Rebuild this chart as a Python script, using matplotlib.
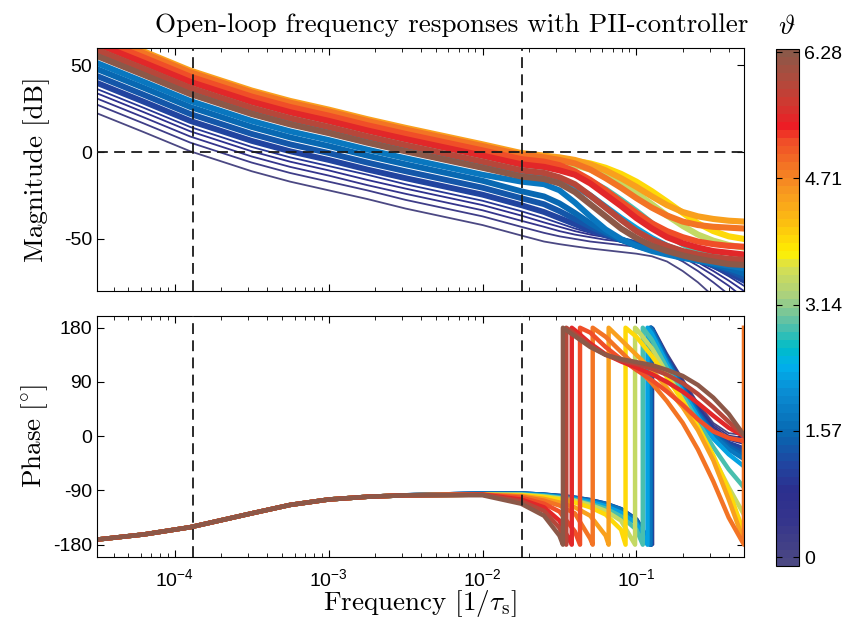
import numpy as np
import matplotlib
matplotlib.use('Agg')
import matplotlib.pyplot as plt
from matplotlib.colors import LinearSegmentedColormap, Normalize
from matplotlib.ticker import FixedLocator, LogLocator, NullFormatter, FuncFormatter

plt.rcParams['font.family'] = 'Liberation Sans'
plt.rcParams['mathtext.fontset'] = 'custom'
plt.rcParams['mathtext.rm'] = 'Liberation Sans'
plt.rcParams['mathtext.it'] = 'Liberation Sans:italic'
plt.rcParams['mathtext.bf'] = 'Liberation Sans:bold'
plt.rcParams['mathtext.sf'] = 'Liberation Sans'
plt.rcParams['axes.unicode_minus'] = False

### frequency grid [1/tau_s] ###
freq = np.array([3.0e-5, 6.3e-5, 1.26e-4, 3.16e-4, 5.62e-4, 1.0e-3, 1.78e-3, 3.16e-3, 1.0e-2,
                 1.78e-2, 2.51e-2, 3.16e-2, 3.98e-2, 5.01e-2, 6.31e-2, 7.94e-2,
                 0.1, 0.126, 0.158, 0.2, 0.251, 0.316, 0.398, 0.5])

### magnitude [dB], one list per theta ###
mag_005 = [23, 11.5, 0.5, -11, -17, -22, -27, -32.5, -42, -48, -51.5, -53, -54.3, -55.5, -56.5, -57.5, -58.5, -60, -63, -68.5, -75, -83, -91, -99]
mag_030 = [28, 16.5, 5.5, -6, -12, -17, -22, -27.5, -37, -43, -46.5, -48.5, -50, -51.5, -52.5, -53.5, -54.5, -56, -58.5, -63, -68.5, -75, -82, -89]
mag_055 = [31.5, 20, 9, -2.5, -8.5, -13.5, -19, -24, -33.5, -39.5, -43, -45.5, -47.5, -49, -50.5, -51.5, -52.5, -54, -56.5, -60.5, -65.5, -71, -77, -84]
mag_080 = [34.5, 23, 12, 0.5, -5.5, -10.5, -16, -21, -30.5, -36.5, -40.5, -43, -45.5, -47.5, -49, -50.5, -51.5, -53, -55.5, -59, -63.5, -68.5, -74, -80]
mag_100 = [37, 25.5, 14.5, 3, -3, -8, -13, -18.5, -28, -34, -38, -41, -44, -46.5, -48.5, -50, -51.5, -53, -55, -58, -62, -66.5, -71.5, -77]
mag_120 = [40.5, 29, 18, 6.5, 0.5, -4.5, -10, -15, -24.5, -30.5, -34.5, -38, -41.5, -45, -48, -50.5, -52.5, -54.5, -56.5, -59, -62, -65.5, -69.5, -74]
mag_145 = [44.5, 33, 22, 10.5, 4.5, -0.5, -6, -11, -20.5, -26.5, -30, -34, -38.5, -43, -47, -50.5, -53, -55.5, -57.5, -59.5, -62, -65, -68, -72]
mag_165 = [48.5, 37, 26, 14.5, 8.5, 3.5, -2, -7, -16.5, -22.5, -25.5, -29.5, -35, -41, -46, -50.5, -54, -56.5, -58.5, -60.5, -62.5, -64.5, -67, -70]
mag_185 = [52, 40.5, 29.5, 18, 12, 7, 1.5, -3.5, -13, -17, -18.5, -22, -29, -37, -44.5, -50, -54, -57, -59, -61, -62.5, -64, -65.5, -67]
mag_230 = [58, 46.5, 35.5, 24, 18, 13, 7.5, 2.5, -7, -12, -13.5, -15.5, -19.5, -25, -31.5, -38, -44, -49.5, -54, -57.5, -60, -62, -63.5, -65]
mag_290 = [63, 51.5, 40.5, 29, 23, 18, 12.5, 7.5, -2, -7, -8.5, -10, -12.5, -16.5, -21.5, -27.5, -34, -41, -47.5, -53, -57, -60, -62, -63.5]
mag_350 = [66.5, 55, 44, 32.5, 26.5, 21.5, 16, 11, 1.5, -3.5, -5, -6, -7.5, -10, -13.5, -18, -23.5, -30, -36.5, -42.5, -47.5, -51, -53.5, -55]
mag_400 = [68.5, 57, 46, 34.5, 28.5, 23.5, 18, 13, 3.5, -1.5, -3, -4, -5, -6.5, -9, -12.5, -17, -22.5, -28.5, -35, -41, -45.5, -48.5, -50]
mag_450 = [69.5, 58, 47, 35.5, 29.5, 24.5, 19, 14, 4.5, -0.5, -2, -3, -4.5, -7, -10.5, -15, -20, -25.5, -30.5, -34.5, -37, -38.5, -39.5, -40]
mag_490 = [68.5, 57, 46, 34.5, 28.5, 23.5, 18, 13, 3.5, -1.5, -3, -4.5, -6.5, -10, -15, -20.5, -26.5, -32, -36.5, -40, -42, -43, -43.5, -44]
mag_515 = [66, 54.5, 43.5, 32, 26, 21, 15.5, 10.5, 1, -4, -5.5, -7.5, -11, -16, -22, -28.5, -35, -41, -45.5, -49, -51.5, -53, -54, -54.5]
mag_540 = [63, 51.5, 40.5, 29, 23, 18, 12.5, 7.5, -2, -7, -8.5, -10.5, -13, -18, -24.5, -31, -38, -44, -49, -52.5, -55, -57, -58, -59]
mag_585 = [59.5, 48, 37, 25.5, 19.5, 14.5, 9, 4, -5.5, -10.5, -12, -14.5, -18.5, -25, -32, -39, -45.5, -50.5, -54, -57, -59, -60.5, -61.5, -62]
mag_628 = [56, 44.5, 33.5, 22, 16, 11, 5.5, 0.5, -9, -14, -15.5, -18, -23, -30, -37, -44, -49.5, -54, -57, -59.5, -61.5, -63, -64.5, -65]

### phase [deg], as displayed (wrapped into -180..180) ###
ph_005 = [-172, -163, -151, -128, -114, -105, -100.5, -98, -95, -95, -97, -99, -102, -106, -112, -121, -138, -178, 138, 95, 55, 22, 5, 2]
ph_030 = [-172, -163, -151, -128, -114, -105, -100.5, -98, -95, -95, -97, -99, -102, -106, -112, -121, -138, -178, 136, 93, 52, 19, 1, -3]
ph_055 = [-172, -163, -151, -128, -114, -105, -100.5, -98, -95, -95, -97, -99, -102, -106, -112, -121, -138, -178, 134, 90, 49, 16, -3, -8]
ph_080 = [-172, -163, -151, -128, -114, -105, -100.5, -98, -95, -95, -97, -99, -102, -106, -112, -121, -138, -178, 132, 88, 46, 13, -6, -13]
ph_100 = [-172, -163, -151, -128, -114, -105, -100.5, -98, -95, -95, -97, -99, -102, -106, -112, -121, -138, -179, 130, 86, 44, 10, -9, -18]
ph_120 = [-172, -163, -151, -128, -114, -105, -100.5, -98, -95, -95, -97, -99, -102, -106, -112, -121, -138, 179, 130, 84, 42, 8, -12, -22]
ph_145 = [-172, -163, -151, -128, -114, -105, -100.5, -98, -95, -95, -97, -99, -102, -106, -112, -121, -139, 178, 128, 82, 40, 6, -15, -28]
ph_165 = [-172, -163, -151, -128, -114, -105, -100.5, -98, -95, -95, -97, -100, -103, -107, -113, -122, -140, 177, 126, 80, 38, 4, -18, -33]
ph_185 = [-172, -163, -151, -128, -114, -105, -100.5, -98, -95, -96, -98, -100, -103, -107, -113, -122, -141, 175, 124, 78, 36, 2, -22, -38]
ph_230 = [-172, -163, -151, -128, -114, -105, -100.5, -98, -97, -96, -98, -101, -104, -109, -116, -127, -145, 170, 120, 74, 32, -4, -30, -50]
ph_290 = [-172, -163, -151, -128, -114, -105, -100.5, -98, -97, -97, -99, -102, -106, -112, -120, -133, -155, 160, 113, 68, 24, -18, -55, -85]
ph_350 = [-172, -163, -151, -128, -114, -105, -100.5, -98, -97, -97, -100, -103, -107, -114, -124, -140, 178, 146, 104, 60, 15, -35, -85, -130]
ph_400 = [-172, -163, -151, -128, -114, -105, -100.5, -98, -97, -98, -101, -105, -110, -118, -130, -155, 165, 133, 98, 58, 16, -32, -90, -160]
ph_450 = [-172, -163, -151, -128, -114, -105, -100.5, -98, -97, -99, -104, -110, -118, -132, -165, 160, 135, 110, 80, 48, 10, -40, -105, -175]
ph_490 = [-172, -163, -151, -128, -114, -105, -100.5, -98, -97, -100, -107, -115, -128, -170, 165, 140, 115, 88, 58, 22, -22, -75, -135, -180]
ph_515 = [-172, -163, -151, -128, -114, -105, -100.5, -98, -97, -102, -112, -125, -158, 172, 148, 128, 110, 93, 74, 52, 28, 8, -3, -8]
ph_540 = [-172, -163, -151, -128, -114, -105, -100.5, -98, -97, -105, -118, -140, 176, 154, 136, 124, 114, 103, 90, 74, 55, 34, 14, 0]
ph_585 = [-172, -163, -151, -128, -114, -105, -100.5, -98, -97, -108, -124, -152, 170, 150, 135, 126, 120, 112, 102, 88, 70, 48, 24, 1]
ph_628 = [-172, -163, -151, -128, -114, -105, -100.5, -98, -98, -112, -132, -165, 166, 148, 135, 128, 123, 118, 110, 100, 85, 64, 37, 2]

### frequencies where the phase jumps from -180 to +180 ###
theta = [0.05, 0.3, 0.55, 0.8, 1.0, 1.2, 1.45, 1.65, 1.85, 2.3, 2.9, 3.5, 4.0, 4.5, 4.9, 5.15, 5.4, 5.85, 6.28]
wraps = [[0.129], [0.128], [0.1275], [0.127], [0.1265], [0.125], [0.1245], [0.124], [0.122],
         [0.118], [0.110], [0.098], [0.085], [0.066], [0.052, 0.5], [0.043], [0.038], [0.035], [0.0333]]
mags = [mag_005, mag_030, mag_055, mag_080, mag_100, mag_120, mag_145, mag_165, mag_185,
        mag_230, mag_290, mag_350, mag_400, mag_450, mag_490, mag_515, mag_540, mag_585, mag_628]
phases = [ph_005, ph_030, ph_055, ph_080, ph_100, ph_120, ph_145, ph_165, ph_185,
          ph_230, ph_290, ph_350, ph_400, ph_450, ph_490, ph_515, ph_540, ph_585, ph_628]

cb_ticks = [0, 1.57, 3.14, 4.71, 6.28]
cb_labels = ['0', '1.57', '3.14', '4.71', '6.28']
w_cross = [1.31e-4, 0.0181]

cmap = LinearSegmentedColormap.from_list('theta', [
    (0.00, '#4b4883'), (0.08, '#35358c'), (0.14, '#2c2f8e'), (0.19, '#2144a0'),
    (0.25, '#0866b0'), (0.335, '#0a8ed4'), (0.386, '#00b0ec'), (0.42, '#00bcc8'),
    (0.47, '#5ac0a8'), (0.52, '#a8d080'), (0.58, '#d8e050'), (0.607, '#fff000'),
    (0.665, '#fcc010'), (0.724, '#f89a20'), (0.78, '#f37224'), (0.83, '#f04a28'),
    (0.855, '#ee1c24'), (0.90, '#d03830'), (0.945, '#b04a3c'), (1.00, '#8c5848')], N=64)


def wrapped(f, ph, wr):
    xs, ys = [], []
    lo = 0.0
    for w in wr + [np.inf]:
        keep = (f > lo) & (f < w)
        xs += list(f[keep])
        ys += list(ph[keep])
        if np.isfinite(w):
            xs += [w, w]
            ys += [-180, 180]
        lo = w
    return xs, ys


fig = plt.figure(figsize=(8.52, 6.30), dpi=100)
ax1 = fig.add_axes([0.1138, 0.5381, 0.7594, 0.3857])
ax2 = fig.add_axes([0.1138, 0.1163, 0.7594, 0.3826])
cax = fig.add_axes([0.9105, 0.1016, 0.0277, 0.8206])

for th, m, p, wr in zip(theta, mags, phases, wraps):
    c = cmap(th / 6.2832)
    if th < 1.1:
        lw = 1.3
    elif th < 2.0:
        lw = 4.2
    else:
        lw = 4.4
    ax1.plot(freq, m, color=c, lw=lw, solid_joinstyle='round')
    px, py = wrapped(freq, np.array(p, dtype=float), wr)
    ax2.plot(px, py, color=c, lw=min(lw, 3.2), solid_joinstyle='round')

# dashed crossover markers
for ax in (ax1, ax2):
    for w in w_cross:
        ax.axvline(w, color='#1a1a1a', lw=1.3, ls=(0, (6, 3.5)), zorder=10)
ax1.axhline(0, color='#1a1a1a', lw=1.3, ls=(0, (6, 3.5)), zorder=10)

for ax in (ax1, ax2):
    ax.set_xscale('log')
    ax.set_xlim(3.12e-5, 0.5)
    ax.xaxis.set_major_locator(FixedLocator([1e-4, 1e-3, 1e-2, 1e-1]))
    ax.xaxis.set_minor_locator(LogLocator(base=10, subs=np.arange(2, 10)))
    ax.xaxis.set_minor_formatter(NullFormatter())
    ax.tick_params(which='both', direction='in', top=True, right=True, labelsize=14)
    ax.tick_params(which='major', length=5, width=0.8)
    ax.tick_params(which='minor', length=2.8, width=0.6)
    for s in ax.spines.values():
        s.set_linewidth(0.8)

ax1.set_ylim(-80, 60)
ax1.set_yticks([-50, 0, 50])
ax1.tick_params(labelbottom=False)
ax2.set_ylim(-200, 200)
ax2.set_yticks([-180, -90, 0, 90, 180])
ax2.xaxis.set_major_formatter(FuncFormatter(lambda v, pos: r'$\mathrm{10^{%d}}$' % round(np.log10(v))))
ax2.tick_params(axis='x', which='major', pad=8)

lab = dict(fontsize=19.5, fontfamily='cmr10', math_fontfamily='cm')
ax1.set_ylabel('Magnitude [dB]', **lab)
ax2.set_ylabel(r'$\mathrm{Phase}\ [^{\circ}]$', **lab)
ax2.set_xlabel(r'Frequency [$1/\tau_{\mathrm{s}}$]', **lab)
ax1.yaxis.set_label_coords(-0.073, 0.5)
ax2.yaxis.set_label_coords(-0.073, 0.5)
ax2.xaxis.set_label_coords(0.5, -0.13)

fig.text(452 / 852, 1 - 32 / 630, 'Open-loop frequency responses with PII-controller',
         ha='center', va='baseline', **lab)
fig.text(787 / 852, 1 - 27 / 630, r'$\vartheta$', ha='center', va='center',
         fontsize=20, math_fontfamily='cm')

sm = plt.cm.ScalarMappable(norm=Normalize(-0.11, 6.32), cmap=cmap)
cb = fig.colorbar(sm, cax=cax, ticks=cb_ticks)
cb.ax.set_yticklabels(cb_labels)
cb.ax.tick_params(direction='in', length=4, width=0.8, labelsize=14, left=True, right=True)
cb.outline.set_linewidth(0.8)

fig.savefig('out.png', dpi=100)
